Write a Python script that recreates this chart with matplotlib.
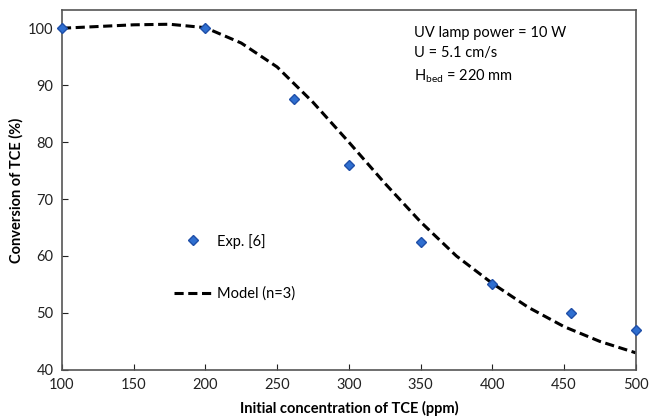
import matplotlib
matplotlib.use("Agg")
import matplotlib.pyplot as plt

plt.rcParams['font.family'] = ['Lato', 'DejaVu Sans']
plt.rcParams['mathtext.fontset'] = 'custom'
plt.rcParams['mathtext.rm'] = 'Lato'
plt.rcParams['mathtext.it'] = 'Lato:italic'

# experimental points
exp_conc = [100, 200, 262, 300, 350, 400, 455, 500]
exp_conv = [100, 100, 87.5, 76, 62.5, 55, 50, 47]

# model curve (n=3)
model_conc = [100, 125, 150, 175, 200, 225, 250, 275, 300, 325, 350, 375, 400, 425, 450, 475, 500]
model_conv = [100, 100.3, 100.6, 100.7, 100.1, 97.4, 93.2, 87.0, 80.0, 72.8, 66.0, 60.0, 55.2,
              51.0, 47.6, 45.0, 43.0]

x_ticks = [100, 150, 200, 250, 300, 350, 400, 450, 500]
y_ticks = [40, 50, 60, 70, 80, 90, 100]

fig, ax = plt.subplots(figsize=(6.52, 4.17), dpi=100)
fig.subplots_adjust(left=0.095, right=0.975, top=0.976, bottom=0.113)

ax.plot(model_conc, model_conv, color='black', linestyle=(0, (3, 1.5)), linewidth=2.2,
        label='Model (n=3)', zorder=2)
ax.plot(exp_conc, exp_conv, linestyle='none', marker='D', markersize=5,
        markerfacecolor='#2f6fd0', markeredgecolor='#1f4fa8', label='Exp. [6]',
        zorder=3, clip_on=False)

ax.set_xlim(100, 500)
ax.set_ylim(40, 103.2)
ax.set_xticks(x_ticks)
ax.set_yticks(y_ticks)
ax.tick_params(direction='in', length=4, labelsize=10.5, colors='#222222', pad=6)
for s in ax.spines.values():
    s.set_color('#555555')
    s.set_linewidth(1.2)

ax.set_xlabel('Initial concentration of TCE (ppm)', fontsize=10.5, fontweight='bold', labelpad=6)
ax.set_ylabel('Conversion of TCE (%)', fontsize=10.5, fontweight='bold', labelpad=3)

ax.text(0.613, 0.955, 'UV lamp power = 10 W\nU = 5.1 cm/s\nH$_{\\mathrm{bed}}$ = 220 mm',
        transform=ax.transAxes, fontsize=10.5, va='top', ha='left', linespacing=1.55)

handles, labels = ax.get_legend_handles_labels()
ax.legend(handles[::-1], labels[::-1], loc='upper left', bbox_to_anchor=(0.173, 0.415),
          frameon=False, fontsize=10.5, labelspacing=2.6, handlelength=2.6,
          handletextpad=0.3)

fig.savefig('out.png', dpi=100)
